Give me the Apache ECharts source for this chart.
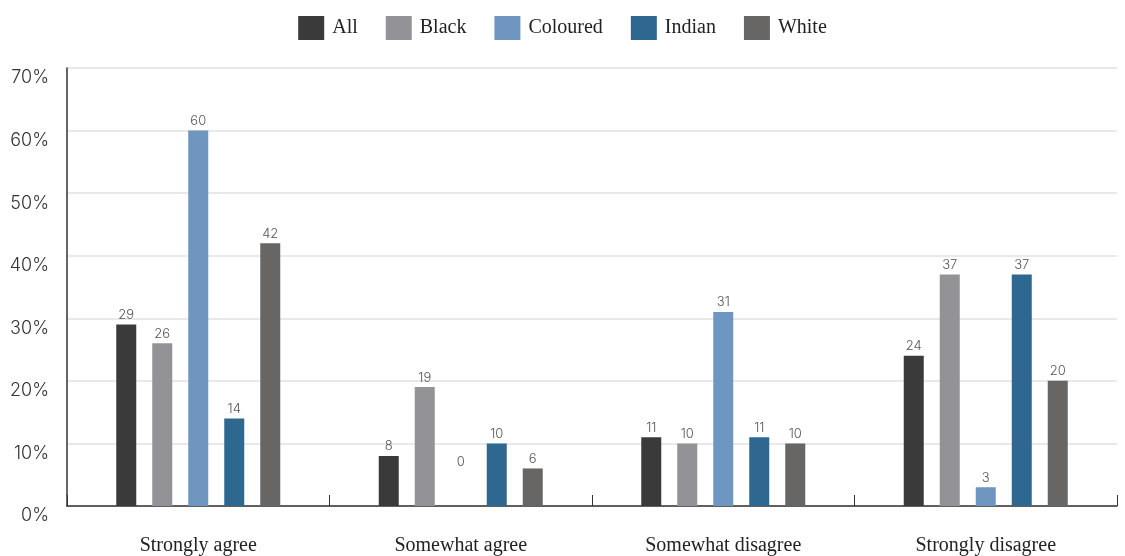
<!DOCTYPE html>
<html><head><meta charset="utf-8">
<script src="https://cdn.jsdelivr.net/npm/echarts@6/dist/echarts.min.js"></script>
<style>html,body{margin:0;padding:0;background:#fff}#c{width:1125px;height:556px}</style>
</head><body><div id="c"></div>
<script>
const categories = ['Strongly agree', 'Somewhat agree', 'Somewhat disagree', 'Strongly disagree'];
const seriesNames = ['All', 'Black', 'Coloured', 'Indian', 'White'];
const allVals = [29, 8, 11, 24];
const blackVals = [26, 19, 10, 37];
const colouredVals = [60, 0, 31, 3];
const indianVals = [14, 10, 11, 37];
const whiteVals = [42, 6, 10, 20];
const colors = ['#3a3a3a', '#939296', '#6f96c0', '#2e6891', '#676665'];
const yTicks = [0, 10, 20, 30, 40, 50, 60, 70];

const valueSets = [allVals, blackVals, colouredVals, indianVals, whiteVals];
const sansFont = 'Inter';
const serifFont = 'Liberation Serif';

const series = seriesNames.map((name, i) => ({
  name, type: 'bar',
  barWidth: 20, barGap: '80%',
  itemStyle: { color: colors[i] },
  label: { show: true, position: 'top', distance: 3, color: '#555', fontFamily: sansFont, fontSize: 13, fontWeight: 300 },
  data: valueSets[i].map(v => v === 0 ? { value: v, label: { offset: [0, -34] } } : v)
}));

const chart = echarts.init(document.getElementById('c'));
chart.setOption({
  animation: false,
  legend: {
    top: 11, left: 'center',
    itemWidth: 26, itemHeight: 24, itemGap: 28,
    icon: 'rect',
    textStyle: { fontFamily: serifFont, fontSize: 20, color: '#222', padding: [0, 0, 0, 3] },
    data: seriesNames
  },
  grid: { left: 67, right: 8, top: 68, bottom: 49 },
  xAxis: {
    type: 'category', data: categories,
    axisLine: { lineStyle: { color: '#333', width: 1.5 } },
    axisTick: { show: true, inside: true, length: 11, lineStyle: { color: '#333' } },
    axisLabel: { margin: 30, fontFamily: serifFont, fontSize: 20, color: '#222' }
  },
  yAxis: {
    type: 'value', min: 0, max: 70, interval: 10,
    axisLine: { show: true, lineStyle: { color: '#333', width: 1.5 } },
    axisTick: { show: false },
    splitLine: { lineStyle: { color: '#e2e2e2', width: 1.5 } },
    axisLabel: {
      margin: 18, fontFamily: sansFont, fontSize: 18, fontWeight: 300, color: '#333',
      verticalAlign: 'top', padding: [1, 0, 0, 0],
      formatter: v => yTicks.includes(v) ? v + '%' : ''
    }
  },
  series
});
</script></body></html>
